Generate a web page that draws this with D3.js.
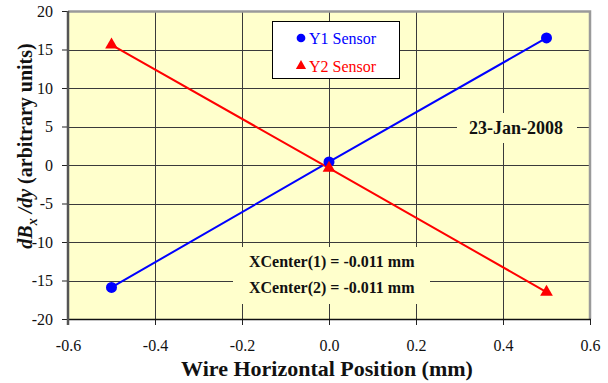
<!DOCTYPE html>
<html>
<head>
<meta charset="utf-8">
<script src="https://cdn.jsdelivr.net/npm/d3@7"></script>
<style>
  html, body { margin: 0; padding: 0; background: #ffffff; }
  svg { display: block; }
</style>
</head>
<body>
<svg id="chart" width="608" height="383" font-family="Liberation Serif"></svg>
<script>
// Wire scan: gradient of Bx versus horizontal wire position
const positions = [-0.5, 0.0, 0.5];
const y1Sensor = [-15.9, 0.4, 16.5];
const y2Sensor = [15.6, -0.4, -16.5];
const xTicks = [-0.6, -0.4, -0.2, 0.0, 0.2, 0.4, 0.6];
const yTicks = [-20, -15, -10, -5, 0, 5, 10, 15, 20];
const seriesNames = ["Y1 Sensor", "Y2 Sensor"];
const scanDate = "23-Jan-2008";
const centerNotes = ["XCenter(1) = -0.011 mm", "XCenter(2) = -0.011 mm"];

const FONT = "Liberation Serif";
const svg = d3.select("#chart");
const plot = { left: 68, right: 590, top: 11, bottom: 319 };

const x = d3.scaleLinear().domain([-0.6, 0.6]).range([plot.left, plot.right]);
const y = d3.scaleLinear().domain([-20, 20]).range([plot.bottom, plot.top]);

// plot background
svg.append("rect")
  .attr("x", plot.left).attr("y", plot.top)
  .attr("width", plot.right - plot.left).attr("height", plot.bottom - plot.top)
  .attr("fill", "#ffffcc");

// gridlines
const grid = svg.append("g").attr("stroke", "#3a3a3a").attr("stroke-width", 1).attr("shape-rendering", "crispEdges");
grid.selectAll("line.h").data(yTicks.filter(d => d > -20 && d < 20)).join("line")
  .attr("x1", plot.left).attr("x2", plot.right)
  .attr("y1", d => Math.round(y(d)) + 0.5).attr("y2", d => Math.round(y(d)) + 0.5);
grid.selectAll("line.v").data(xTicks.filter(d => d > -0.6 && d < 0.6)).join("line")
  .attr("y1", plot.top).attr("y2", plot.bottom)
  .attr("x1", d => Math.round(x(d)) + 0.5).attr("x2", d => Math.round(x(d)) + 0.5);

// plot border (top and right)
svg.append("path")
  .attr("d", `M${plot.left},${plot.top + 0.5}H${plot.right}V${plot.bottom}`)
  .attr("fill", "none").attr("stroke", "#9a9a9a").attr("stroke-width", 2.5);

// annotation boxes (they hide the grid behind their text)
function noteBox(x0, y0, x1, y1) {
  svg.append("rect").attr("x", x0).attr("y", y0)
    .attr("width", x1 - x0).attr("height", y1 - y0).attr("fill", "#ffffcc");
}
noteBox(457, 113, 577, 143);
noteBox(233, 247, 430, 304);

// axes
const yAxis = d3.axisLeft(y).tickValues(yTicks).tickSize(6).tickPadding(9);
const xAxis = d3.axisBottom(x).tickValues(xTicks).tickSize(6).tickPadding(15);

const gy = svg.append("g").attr("transform", `translate(${plot.left},0)`).call(yAxis);
const gx = svg.append("g").attr("transform", `translate(0,${plot.bottom})`).call(xAxis);
[gx, gy].forEach(g => {
  g.attr("font-family", FONT).attr("font-size", 16);
  g.select(".domain").remove();
  g.selectAll(".tick line").attr("stroke", "#222").attr("stroke-width", 1);
  g.selectAll(".tick text").attr("font-family", FONT).attr("font-size", 16).attr("fill", "#111");
});
gx.selectAll(".tick text").text(d => (d < 0 ? "-" : "") + d3.format(".1f")(Math.abs(d)));
gy.selectAll(".tick text").text(d => String(d));

svg.append("line").attr("x1", plot.left).attr("x2", plot.right + 1)
  .attr("y1", plot.bottom + 0.5).attr("y2", plot.bottom + 0.5)
  .attr("stroke", "#111").attr("stroke-width", 1.5);
svg.append("line").attr("x1", plot.left).attr("x2", plot.left)
  .attr("y1", plot.top).attr("y2", plot.bottom + 6)
  .attr("stroke", "#555").attr("stroke-width", 2.5);

// series
const series = [
  { name: seriesNames[0], values: y1Sensor, color: "#0000ff", shape: d3.symbolCircle, size: 95 },
  { name: seriesNames[1], values: y2Sensor, color: "#ff0000", shape: d3.symbolTriangle, size: 70 }
];
const line = d3.line().x((d, i) => x(positions[i])).y(d => y(d));
series.forEach(s => {
  svg.append("path").datum(s.values).attr("d", line)
    .attr("fill", "none").attr("stroke", s.color).attr("stroke-width", 2);
});
series.forEach(s => {
  svg.append("g").selectAll("path").data(s.values).join("path")
    .attr("transform", (d, i) => `translate(${x(positions[i])},${y(d)})`)
    .attr("d", d3.symbol().type(s.shape).size(s.size))
    .attr("fill", s.color);
});

// legend
const lg = svg.append("g").attr("transform", "translate(272,21)");
lg.append("rect").attr("x", 0.5).attr("y", 0.5).attr("width", 127).attr("height", 57)
  .attr("fill", "#ffffff").attr("stroke", "#000").attr("stroke-width", 1);
series.forEach((s, i) => {
  const ly = 17 + i * 28;
  lg.append("path").attr("transform", `translate(29,${ly})`)
    .attr("d", d3.symbol().type(s.shape).size(i === 0 ? 60 : 45)).attr("fill", s.color);
  lg.append("text").attr("x", 37).attr("y", ly + 5.5)
    .attr("font-family", FONT).attr("font-size", 16).attr("fill", s.color).text(s.name);
});

// annotations
svg.append("text").attr("x", 516).attr("y", 133.5).attr("text-anchor", "middle")
  .attr("font-family", FONT).attr("font-weight", "bold").attr("font-size", 18).attr("fill", "#111").text(scanDate);
centerNotes.forEach((t, i) => {
  svg.append("text").attr("x", 249).attr("y", 267 + i * 26).attr("text-anchor", "start")
    .attr("font-family", FONT).attr("font-weight", "bold").attr("font-size", 16).attr("fill", "#111").text(t);
});

// axis titles
svg.append("text").attr("x", 327).attr("y", 376).attr("text-anchor", "middle")
  .attr("font-family", FONT).attr("font-weight", "bold").attr("font-size", 22).attr("fill", "#111")
  .text("Wire Horizontal Position (mm)");

const yt = svg.append("text").attr("transform", "translate(32,146) rotate(-90)")
  .attr("text-anchor", "middle").attr("font-family", FONT)
  .attr("font-weight", "bold").attr("font-size", 20).attr("fill", "#111");
yt.append("tspan").attr("font-style", "italic").text("dB");
yt.append("tspan").attr("font-style", "italic").attr("font-size", 14).attr("dy", 5).text("x");
yt.append("tspan").attr("dy", -5).text(" ");
yt.append("tspan").attr("font-style", "italic").text("/dy");
yt.append("tspan").text(" (arbitrary units)");
</script>
</body>
</html>
